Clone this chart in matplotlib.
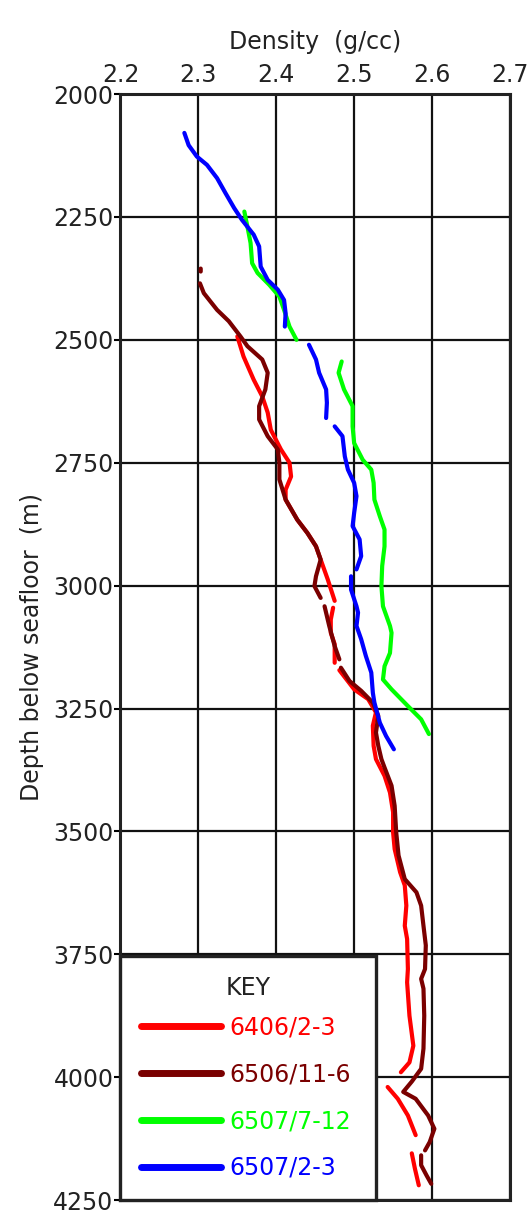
import matplotlib.pyplot as plt
import numpy as np

plt.rcParams['font.family'] = ['DejaVu Sans']

nan = np.nan

# well 6406/2-3 (red)
red_density = [2.350, 2.358, 2.371, 2.382, 2.389, 2.393, 2.406, 2.417, 2.419, 2.412, 2.412,
               2.427, 2.440, 2.451, 2.457, 2.466, 2.475, nan,
               2.473, 2.470, 2.470, 2.475, 2.475, nan,
               2.481, 2.500, 2.518, 2.528, 2.524, 2.525, 2.528, 2.539, 2.546, 2.550, 2.550,
               2.552, 2.559, 2.565, 2.567, 2.565, 2.568, 2.569, 2.568, 2.571, 2.576, 2.571,
               2.560, nan, 2.550, nan,
               2.543, 2.556, 2.569, 2.579, nan, 2.574, 2.578, 2.583]
red_depth = [2493, 2534, 2581, 2615, 2648, 2683, 2723, 2750, 2778, 2805, 2825,
             2866, 2893, 2920, 2947, 2987, 3031, nan,
             3045, 3069, 3096, 3119, 3157, nan,
             3172, 3211, 3231, 3258, 3285, 3326, 3353, 3387, 3421, 3461, 3502,
             3536, 3583, 3610, 3651, 3692, 3719, 3780, 3807, 3875, 3936, 3970,
             3990, nan, 3997, nan,
             4020, 4044, 4078, 4118, nan, 4155, 4186, 4220]

# well 6506/11-6 (dark red)
brown_density = [2.303, 2.303, nan,
                 2.302, 2.307, 2.324, 2.339, 2.354, 2.363, 2.382, 2.389, 2.386, 2.378,
                 2.378, 2.389, 2.402, 2.404, 2.404, 2.412, 2.427, 2.440, 2.451, 2.457,
                 2.451, 2.449, 2.457, nan,
                 2.462, 2.468, 2.475, 2.481, nan,
                 2.483, 2.494, 2.509, 2.524, 2.531, 2.528, 2.531, 2.535, 2.539, 2.548,
                 2.552, 2.554, 2.557, 2.565, 2.580, 2.586, 2.589, 2.592, 2.591, 2.586,
                 2.589, 2.590, 2.589, 2.586, 2.574, 2.563, 2.579, 2.595, 2.603, 2.597,
                 2.591, nan, 2.586, 2.586, 2.593, 2.599]
brown_depth = [2355, 2361, nan,
               2385, 2405, 2439, 2462, 2493, 2513, 2540, 2567, 2601, 2635,
               2662, 2696, 2723, 2750, 2784, 2825, 2866, 2893, 2920, 2947,
               2981, 3001, 3025, nan,
               3042, 3082, 3123, 3150, nan,
               3167, 3194, 3214, 3238, 3265, 3299, 3326, 3353, 3370, 3407,
               3448, 3502, 3549, 3597, 3624, 3651, 3692, 3732, 3780, 3800,
               3820, 3875, 3942, 3983, 4009, 4030, 4044, 4078, 4105, 4132,
               4149, nan, 4159, 4179, 4200, 4217]

# well 6507/7-12 (green)
green_density = [2.359, 2.363, 2.367, 2.369, 2.376, 2.391, 2.404, 2.410, 2.417, 2.426, nan,
                 2.484, 2.480, 2.487, 2.498, 2.498, 2.500, 2.511, 2.522, 2.525, 2.526,
                 2.533, 2.539, 2.539, 2.536, 2.535, 2.537, 2.546, 2.548, 2.546, 2.539,
                 2.537, 2.548, 2.569, 2.586, 2.596]
green_depth = [2239, 2270, 2303, 2344, 2364, 2388, 2412, 2439, 2473, 2500, nan,
               2544, 2567, 2601, 2635, 2676, 2710, 2744, 2764, 2791, 2825,
               2859, 2886, 2920, 2960, 3001, 3042, 3082, 3096, 3137, 3164,
               3191, 3211, 3245, 3272, 3302]

# well 6507/2-3 (blue)
blue_density = [2.282, 2.2875, 2.298, 2.311, 2.324, 2.335, 2.346, 2.356, 2.371, 2.378,
                2.380, 2.389, 2.402, 2.410, 2.412, 2.411, nan,
                2.442, 2.451, 2.455, 2.464, 2.465, 2.464, nan,
                2.475, 2.485, 2.488, 2.492, 2.500, 2.503, 2.500, 2.498, 2.507, 2.509,
                2.503, nan, 2.496, 2.496, 2.503, 2.505, 2.503, 2.509, 2.515, 2.522,
                2.524, 2.526, 2.533, 2.541, 2.551]
blue_depth = [2079, 2104, 2127, 2144, 2171, 2202, 2232, 2256, 2286, 2310,
              2351, 2378, 2398, 2419, 2446, 2473, nan,
              2510, 2540, 2567, 2601, 2628, 2659, nan,
              2676, 2696, 2737, 2764, 2791, 2818, 2852, 2879, 2906, 2940,
              2967, nan, 2981, 3008, 3042, 3055, 3082, 3109, 3143, 3177,
              3218, 3238, 3279, 3306, 3333]

wells = ['6406/2-3', '6506/11-6', '6507/7-12', '6507/2-3']
colors = ['#ff0000', '#7a0000', '#00ff00', '#0000ff']

fig = plt.figure(figsize=(5.32, 12.14), dpi=100)
ax = fig.add_axes([0.2265, 0.0115, 0.732, 0.911])

series = [(red_density, red_depth), (brown_density, brown_depth),
          (green_density, green_depth), (blue_density, blue_depth)]
handles = []
for (d, z), c, name in zip(series, colors, wells):
    h, = ax.plot(d, z, color=c, lw=3.0, solid_capstyle='round',
                 solid_joinstyle='round', label=name, zorder=3)
    handles.append(h)

ax.set_xlim(2.2, 2.7)
ax.set_ylim(4250, 2000)
ax.set_xticks(np.arange(2.2, 2.71, 0.1))
ax.set_yticks(np.arange(2000, 4251, 250))
ax.xaxis.tick_top()
ax.xaxis.set_label_position('top')
ax.tick_params(axis='x', length=0, labelsize=17, pad=5, labelcolor='#222222')
ax.tick_params(axis='y', length=4, width=1.5, labelsize=17, pad=1, labelcolor='#222222')
ax.grid(True, color='#111111', lw=1.6, zorder=1)
for s in ax.spines.values():
    s.set_linewidth(2.2)
    s.set_color('#222222')
ax.set_xlabel('Density  (g/cc)', fontsize=17, labelpad=10, color='#222222')
ax.set_ylabel('Depth below seafloor  (m)', fontsize=17, labelpad=7, color='#222222')

leg = ax.legend(handles=handles, title='KEY', loc='lower left',
                bbox_to_anchor=(0, 0, 0.656, 0.2215), mode='expand',
                fontsize=17, title_fontsize=17, labelcolor='linecolor',
                handlelength=3.4, handletextpad=0.35, labelspacing=0.97,
                borderpad=0.85, fancybox=False, framealpha=1,
                borderaxespad=0)
leg._legend_box.sep = 10.7  # tighter gap under the KEY title
leg.get_frame().set_edgecolor('#222222')
leg.get_frame().set_linewidth(2.4)
leg.get_title().set_color('#222222')
for line in leg.get_lines():
    line.set_linewidth(5)
leg.set_zorder(5)

plt.savefig('out.png', dpi=100)
